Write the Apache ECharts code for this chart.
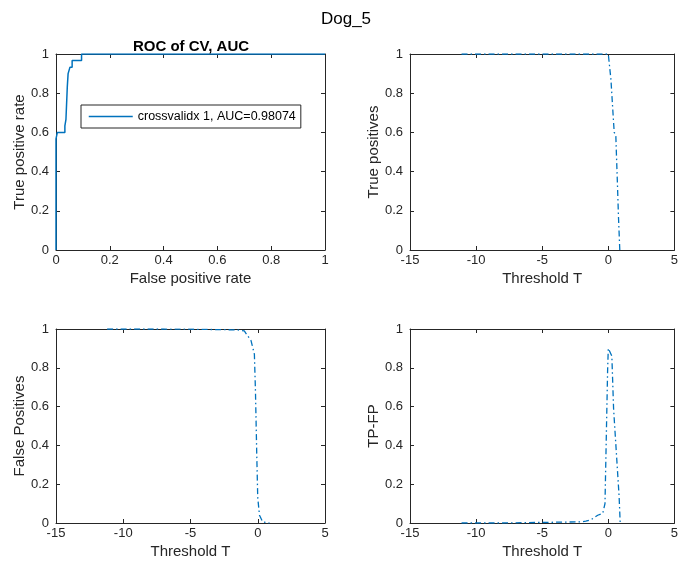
<!DOCTYPE html>
<html>
<head>
<meta charset="utf-8">
<script src="https://cdn.jsdelivr.net/npm/echarts@6/dist/echarts.min.js"></script>
<style>
html,body{margin:0;padding:0;background:#fff;}
#c{width:681px;height:562px;}
</style>
</head>
<body>
<div id="c"></div>
<script>
// ROC curve (top-left)
var rocFpr = [0, 0, 0.005, 0.005, 0.033, 0.033, 0.037, 0.037, 0.042, 0.042, 0.045, 0.045, 0.052, 0.052, 0.06, 0.06, 0.095, 0.095, 1];
var rocTpr = [0, 0.567, 0.567, 0.6, 0.6, 0.633, 0.633, 0.667, 0.667, 0.833, 0.833, 0.9, 0.9, 0.933, 0.933, 0.967, 0.967, 1, 1];
// True positives vs threshold (top-right)
var tpT = [-11.1, -10, -9, -8, -7, -6, -5, -4, -3, -2, -1, 0, 0.075, 0.2, 0.3, 0.4, 0.45, 0.57, 0.6, 0.7, 0.77, 0.87];
var tpV = [1, 1, 1, 1, 1, 1, 1, 1, 1, 1, 1, 1, 1, 0.87, 0.76, 0.65, 0.6, 0.585, 0.52, 0.32, 0.17, 0];
// False positives vs threshold (bottom-left)
var fpT = [-11.2, -10, -9, -8, -7, -6, -5, -4, -3, -2, -1.5, -1.0, -0.5, -0.25, -0.17, -0.07, 0, 0.13, 0.37, 0.45, 0.87];
var fpV = [1, 1, 1, 1, 1, 0.999, 0.999, 0.998, 0.997, 0.996, 0.995, 0.99, 0.94, 0.87, 0.68, 0.34, 0.13, 0.04, 0.005, 0, 0];
// TP-FP vs threshold (bottom-right)
var dT = [-11.1, -10, -9, -8, -7, -6, -5, -4, -3, -2, -1.7, -1.3, -0.8, -0.42, -0.25, -0.05, 0, 0.075, 0.27, 0.4, 0.52, 0.82, 0.9];
var dV = [0, 0, 0, 0, 0.001, 0.002, 0.003, 0.004, 0.005, 0.006, 0.01, 0.017, 0.04, 0.05, 0.1, 0.79, 0.9, 0.91, 0.86, 0.59, 0.58, 0.135, 0];

var legendLabel = 'crossvalidx 1, AUC=0.98074';

function zip(a, b) { var r = []; for (var i = 0; i < a.length; i++) r.push([a[i], b[i]]); return r; }

var AX = '#262626';
var BLUE = '#0072BD';
var FONT = 'Liberation Sans, Arial, Helvetica, sans-serif';

function xAxes(gi, min, max, interval, name) {
  return [{
    type: 'value', gridIndex: gi, min: min, max: max, interval: interval, position: 'bottom',
    name: name, nameLocation: 'middle', nameGap: 21,
    nameTextStyle: { color: AX, fontSize: 15, fontFamily: FONT },
    axisLine: { show: true, onZero: false, lineStyle: { color: AX, width: 1 } },
    axisTick: { show: true, inside: true, length: 4, lineStyle: { color: AX } },
    axisLabel: { color: AX, fontSize: 13, fontFamily: FONT, margin: 4 },
    splitLine: { show: false }
  }, {
    type: 'value', gridIndex: gi, min: min, max: max, interval: interval, position: 'top',
    axisLine: { show: true, onZero: false, lineStyle: { color: AX, width: 1 } },
    axisTick: { show: true, inside: true, length: 4, lineStyle: { color: AX } },
    axisLabel: { show: false }, splitLine: { show: false }
  }];
}
function yAxes(gi, name) {
  return [{
    type: 'value', gridIndex: gi, min: 0, max: 1, interval: 0.2, position: 'left',
    name: name, nameLocation: 'middle', nameGap: 27,
    nameTextStyle: { color: AX, fontSize: 15, fontFamily: FONT },
    axisLine: { show: true, onZero: false, lineStyle: { color: AX, width: 1 } },
    axisTick: { show: true, inside: true, length: 4, lineStyle: { color: AX } },
    axisLabel: { color: AX, fontSize: 13, fontFamily: FONT, margin: 7 },
    splitLine: { show: false }
  }, {
    type: 'value', gridIndex: gi, min: 0, max: 1, interval: 0.2, position: 'right',
    axisLine: { show: true, onZero: false, lineStyle: { color: AX, width: 1 } },
    axisTick: { show: true, inside: true, length: 4, lineStyle: { color: AX } },
    axisLabel: { show: false }, splitLine: { show: false }
  }];
}

var dash = [6, 3, 1.5, 3];
var option = {
  animation: false,
  backgroundColor: '#fff',
  title: [
    { text: 'Dog_5', left: 341, top: 6, textAlign: 'center',
      textStyle: { color: '#000', fontSize: 17, fontWeight: 'normal', fontFamily: FONT } },
    { text: 'ROC of CV, AUC', left: 186, top: 34, textAlign: 'center',
      textStyle: { color: '#000', fontSize: 15, fontWeight: 'bold', fontFamily: FONT } }
  ],
  legend: {
    data: [legendLabel], left: 81, top: 105, orient: 'vertical',
    backgroundColor: '#fff', borderColor: AX, borderWidth: 1, borderRadius: 0,
    padding: [5, 5, 5, 7], itemWidth: 44, itemHeight: 10, itemGap: 4,
    itemStyle: { opacity: 0 },
    lineStyle: { color: BLUE, width: 1.5 },
    textStyle: { color: '#000', fontSize: 12.5, fontFamily: FONT }
  },
  grid: [
    { left: 56, top: 54, width: 269, height: 196 },
    { left: 410, top: 54, width: 268, height: 196 },
    { left: 56, top: 329, width: 269, height: 194 },
    { left: 410, top: 329, width: 268, height: 194 }
  ],
  xAxis: [].concat(
    xAxes(0, 0, 1, 0.2, 'False positive rate'),
    xAxes(1, -15, 5, 5, 'Threshold T'),
    xAxes(2, -15, 5, 5, 'Threshold T'),
    xAxes(3, -15, 5, 5, 'Threshold T')
  ),
  yAxis: [].concat(
    yAxes(0, 'True positive rate'),
    yAxes(1, 'True positives'),
    yAxes(2, 'False Positives'),
    yAxes(3, 'TP-FP')
  ),
  series: [
    { name: legendLabel, type: 'line', xAxisIndex: 0, yAxisIndex: 0, data: zip(rocFpr, rocTpr),
      symbol: 'none', lineStyle: { color: BLUE, width: 1.5 }, itemStyle: { color: BLUE } },
    { type: 'line', xAxisIndex: 2, yAxisIndex: 2, data: zip(tpT, tpV),
      symbol: 'none', lineStyle: { color: BLUE, width: 1.3, type: dash } },
    { type: 'line', xAxisIndex: 4, yAxisIndex: 4, data: zip(fpT, fpV),
      symbol: 'none', lineStyle: { color: BLUE, width: 1.3, type: dash } },
    { type: 'line', xAxisIndex: 6, yAxisIndex: 6, data: zip(dT, dV),
      symbol: 'none', lineStyle: { color: BLUE, width: 1.3, type: dash } }
  ]
};
var chart = echarts.init(document.getElementById('c'), null, { renderer: 'canvas' });
chart.setOption(option);
</script>
</body>
</html>
